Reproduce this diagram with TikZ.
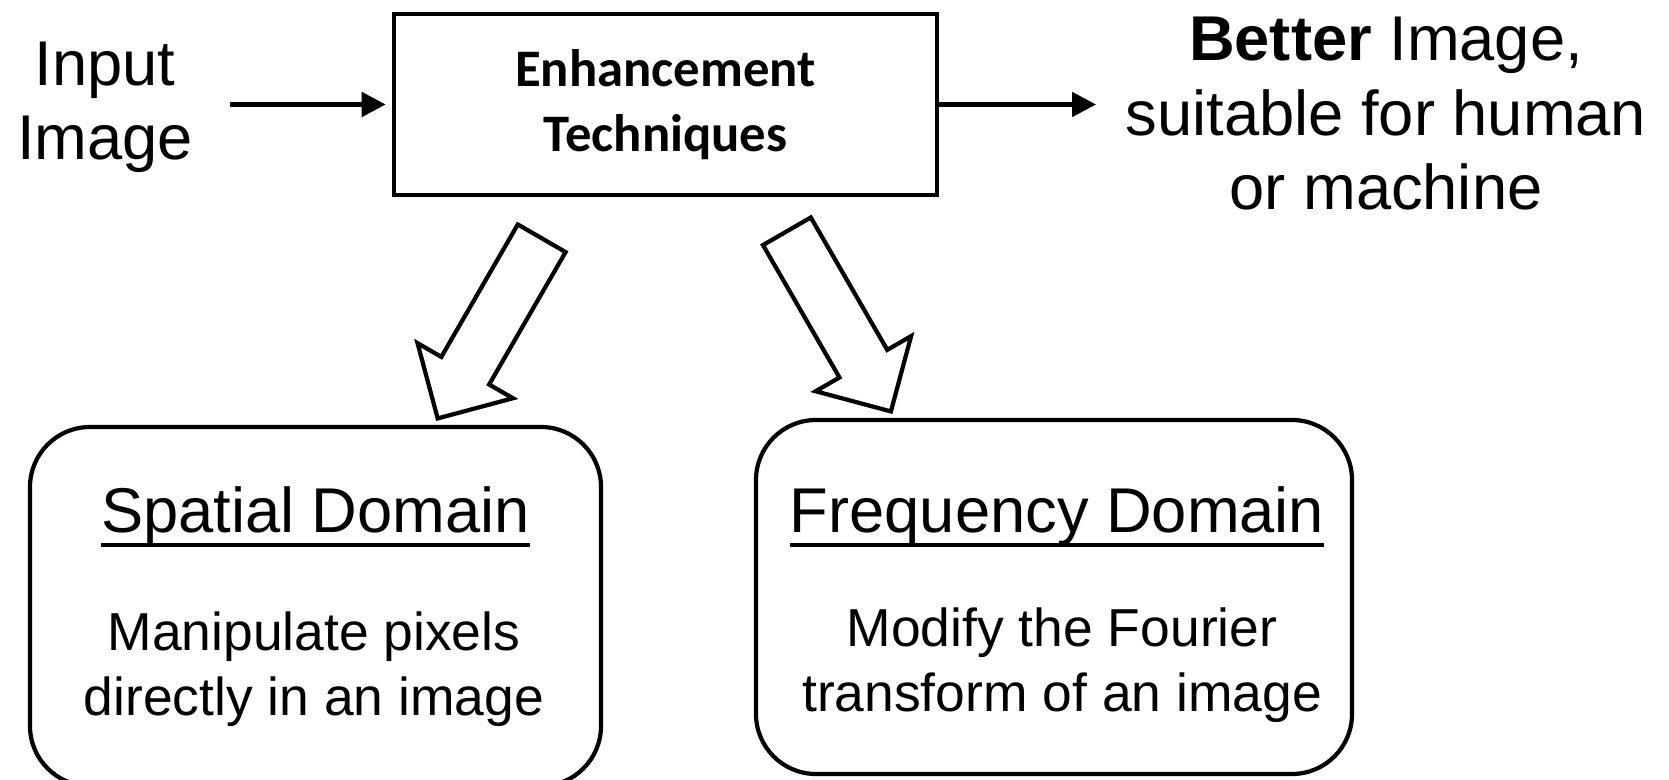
\documentclass[tikz,border=0pt]{standalone}
\usepackage{fontspec}
\setmainfont{Liberation Sans}
\newfontfamily\calibri{Carlito}
\usetikzlibrary{arrows.meta,shapes.arrows}

% underlined heading with a heavier rule
\newcommand{\ulbox}[1]{\setbox0\hbox{#1}\rlap{\rule[-0.23em]{\wd0}{0.06em}}\box0}

\begin{document}
\begin{tikzpicture}[
    textnode/.style={inner sep=0pt, align=center, font=\fontsize{18}{21.2}\selectfont},
    block/.style={rectangle, draw, line width=1.3pt, minimum width=5.43cm, minimum height=1.81cm, align=center, font=\calibri\bfseries\fontsize{15}{18.5}\selectfont},
    domainbox/.style={rectangle, rounded corners=0.6cm, draw, line width=1.2pt, inner sep=0pt},
    heading/.style={inner sep=0pt, anchor=base, font=\fontsize{18}{20}\selectfont},
    detail/.style={inner sep=0pt, align=center, font=\fontsize{15.2}{18.6}\selectfont},
    flow/.style={-{Triangle[length=0.24cm, width=0.24cm]}, line width=1.4pt},
    hollowarrow/.style={single arrow, draw, line width=1.2pt, inner xsep=0pt, inner ysep=0.255cm, minimum height=2.08cm, single arrow head extend=0.275cm, anchor=tip}
]
\useasboundingbox (0,0) rectangle (16.69,7.79);

% Input, processing and result
\node[textnode] (input) at (1.05,6.715) {Input\\Image};
\node[block] (enh) at (6.655,6.745) {Enhancement\\Techniques};
\node[textnode] (better) at (13.86,6.65) {\textbf{Better} Image,\\suitable for human\\or machine};

% Domains
\node[domainbox, minimum width=5.71cm, minimum height=3.59cm] (spatial) at (3.155,1.725) {};
\node[domainbox, minimum width=5.96cm, minimum height=3.54cm] (freq) at (10.54,1.82) {};

\node[heading] (spatialhead) at (3.155,2.47) {\ulbox{Spatial Domain}};
\node[heading] (freqhead) at (10.57,2.47) {\ulbox{Frequency Domain}};
\node[detail] (spatialtext) at (3.14,1.10) {Manipulate pixels\\directly in an image};
\node[detail] (freqtext) at (10.62,1.14) {Modify the Fourier\\transform of an image};

% Hollow arrows down to the domains
\node[hollowarrow, rotate=-120] (tospatial) at (4.362,3.58) {};
\node[hollowarrow, rotate=-60] (tofreq) at (8.924,3.65) {};

% Flow
\draw[flow, shorten <=0.365cm, shorten >=0.06cm] (input.east |- enh.west) -- (enh.west);
\draw[flow, shorten >=0.29cm] (enh.east) -- (enh.east -| better.west);

\end{tikzpicture}
\end{document}
